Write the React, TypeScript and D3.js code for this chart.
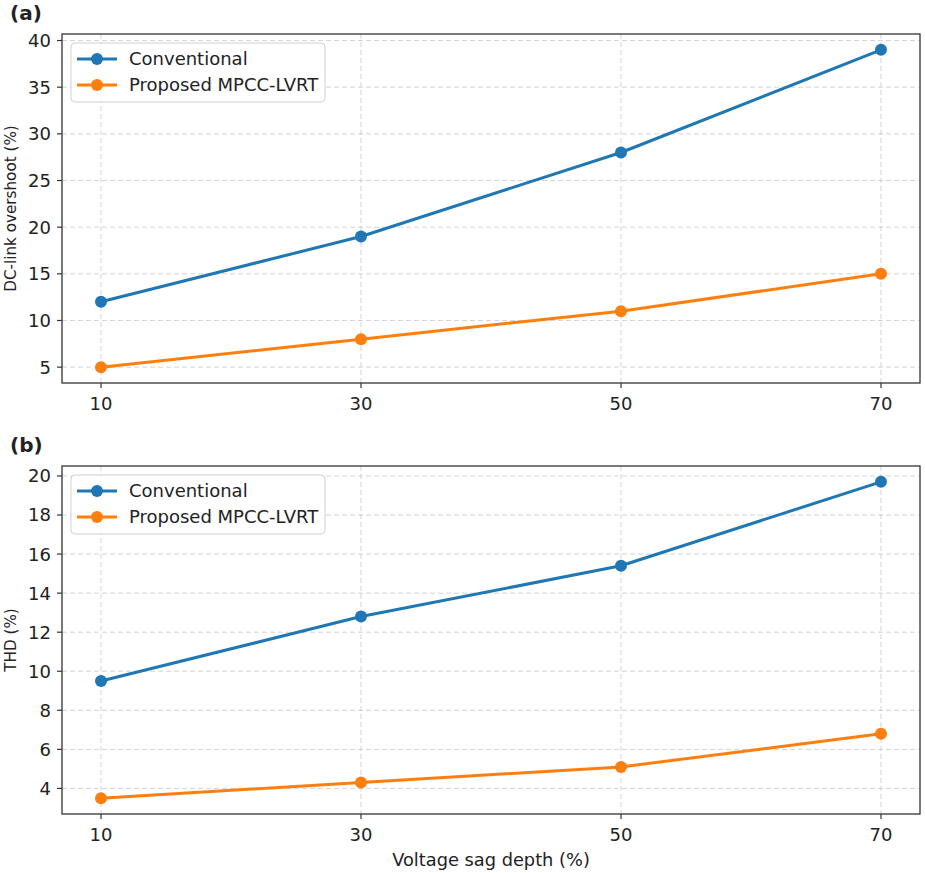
import { useEffect, useRef } from 'react'
import * as d3 from 'd3'

const sagDepth = [10, 30, 50, 70]
const xTicks = [10, 30, 50, 70]

const seriesNames = ['Conventional', 'Proposed MPCC-LVRT']
const colors = ['#1f77b4', '#ff7f0e']

const overshootConventional = [12, 19, 28, 39]
const overshootProposed = [5, 8, 11, 15]
const overshootTicks = [5, 10, 15, 20, 25, 30, 35, 40]

const thdConventional = [9.5, 12.8, 15.4, 19.7]
const thdProposed = [3.5, 4.3, 5.1, 6.8]
const thdTicks = [4, 6, 8, 10, 12, 14, 16, 18, 20]

const W = 925
const H = 873
const FONT = 'DejaVu Sans, sans-serif'

interface Panel {
  tag: string
  yLabel: string
  series: number[][]
  yTicks: number[]
  top: number
  bottom: number
  showXLabel: boolean
}

const panels: Panel[] = [
  {
    tag: '(a)',
    yLabel: 'DC-link overshoot (%)',
    series: [overshootConventional, overshootProposed],
    yTicks: overshootTicks,
    top: 34,
    bottom: 383,
    showXLabel: false
  },
  {
    tag: '(b)',
    yLabel: 'THD (%)',
    series: [thdConventional, thdProposed],
    yTicks: thdTicks,
    top: 466,
    bottom: 814,
    showXLabel: true
  }
]

export default function App() {
  const svgRef = useRef<SVGSVGElement>(null)

  useEffect(() => {
    document.body.style.margin = '0'
    if (!svgRef.current) return
    const svg = d3.select(svgRef.current)
    svg.selectAll('*').remove()

    const left = 62
    const right = 920

    // x domain padded like matplotlib's 5% margins
    const xMin = d3.min(sagDepth)!
    const xMax = d3.max(sagDepth)!
    const xPad = (xMax - xMin) * 0.05
    const x = d3.scaleLinear().domain([xMin - xPad, xMax + xPad]).range([left, right])

    panels.forEach(p => {
      const all = p.series.flat()
      const lo = d3.min(all)!
      const hi = d3.max(all)!
      const pad = (hi - lo) * 0.05
      const y = d3.scaleLinear().domain([lo - pad, hi + pad]).range([p.bottom, p.top])

      const g = svg.append('g')

      // grid
      g.selectAll('.gx')
        .data(xTicks)
        .enter().append('line')
        .attr('x1', d => x(d)).attr('x2', d => x(d))
        .attr('y1', p.top).attr('y2', p.bottom)
        .attr('stroke', '#b0b0b0').attr('stroke-opacity', 0.55)
        .attr('stroke-width', 1).attr('stroke-dasharray', '5,3')

      g.selectAll('.gy')
        .data(p.yTicks)
        .enter().append('line')
        .attr('x1', left).attr('x2', right)
        .attr('y1', d => y(d)).attr('y2', d => y(d))
        .attr('stroke', '#b0b0b0').attr('stroke-opacity', 0.55)
        .attr('stroke-width', 1).attr('stroke-dasharray', '5,3')

      // lines and markers
      const line = d3.line<number>()
        .x((_, i) => x(sagDepth[i]))
        .y(d => y(d))

      p.series.forEach((vals, si) => {
        g.append('path')
          .datum(vals)
          .attr('d', line)
          .attr('fill', 'none')
          .attr('stroke', colors[si])
          .attr('stroke-width', 3)
          .attr('stroke-linejoin', 'round')
          .attr('stroke-linecap', 'round')

        g.selectAll(`.m${si}`)
          .data(vals)
          .enter().append('circle')
          .attr('cx', (_, i) => x(sagDepth[i]))
          .attr('cy', d => y(d))
          .attr('r', 6)
          .attr('fill', colors[si])
      })

      // frame
      g.append('rect')
        .attr('x', left).attr('y', p.top)
        .attr('width', right - left).attr('height', p.bottom - p.top)
        .attr('fill', 'none').attr('stroke', '#333').attr('stroke-width', 1.3)

      // y ticks
      p.yTicks.forEach(t => {
        g.append('line')
          .attr('x1', left - 5).attr('x2', left)
          .attr('y1', y(t)).attr('y2', y(t))
          .attr('stroke', '#333').attr('stroke-width', 1.2)
        g.append('text')
          .attr('x', left - 11).attr('y', y(t))
          .attr('dy', '0.36em')
          .attr('text-anchor', 'end')
          .attr('font-family', FONT).attr('font-size', 18)
          .attr('fill', '#222')
          .text(t)
      })

      // x ticks
      xTicks.forEach(t => {
        g.append('line')
          .attr('x1', x(t)).attr('x2', x(t))
          .attr('y1', p.bottom).attr('y2', p.bottom + 5)
          .attr('stroke', '#333').attr('stroke-width', 1.2)
        g.append('text')
          .attr('x', x(t)).attr('y', p.bottom + 27)
          .attr('text-anchor', 'middle')
          .attr('font-family', FONT).attr('font-size', 18)
          .attr('fill', '#222')
          .text(t)
      })

      // y label
      g.append('text')
        .attr('transform', `translate(16,${(p.top + p.bottom) / 2}) rotate(-90)`)
        .attr('text-anchor', 'middle')
        .attr('font-family', FONT).attr('font-size', 15.2)
        .attr('fill', '#222')
        .text(p.yLabel)

      if (p.showXLabel) {
        g.append('text')
          .attr('x', (left + right) / 2).attr('y', 866)
          .attr('text-anchor', 'middle')
          .attr('font-family', FONT).attr('font-size', 17.8)
          .attr('fill', '#222')
          .text('Voltage sag depth (%)')
      }

      // panel tag
      g.append('text')
        .attr('x', 10).attr('y', p.top - 14)
        .attr('font-family', FONT).attr('font-size', 20).attr('font-weight', 'bold')
        .attr('fill', '#222')
        .text(p.tag)

      // legend
      const lg = g.append('g').attr('transform', `translate(71,${p.top + 9})`)
      lg.append('rect')
        .attr('width', 254).attr('height', 59).attr('rx', 4)
        .attr('fill', 'white').attr('fill-opacity', 0.85)
        .attr('stroke', '#d0d0d0').attr('stroke-width', 1)
      seriesNames.forEach((name, i) => {
        const cy = 16 + i * 26
        lg.append('line')
          .attr('x1', 6).attr('x2', 46).attr('y1', cy).attr('y2', cy)
          .attr('stroke', colors[i]).attr('stroke-width', 3)
        lg.append('circle')
          .attr('cx', 26).attr('cy', cy).attr('r', 6).attr('fill', colors[i])
        lg.append('text')
          .attr('x', 58).attr('y', cy).attr('dy', '0.36em')
          .attr('font-family', FONT).attr('font-size', 18)
          .attr('fill', '#222')
          .text(name)
      })
    })
  }, [])

  return <svg ref={svgRef} width={W} height={H} style={{ display: 'block', background: 'white' }} />
}
